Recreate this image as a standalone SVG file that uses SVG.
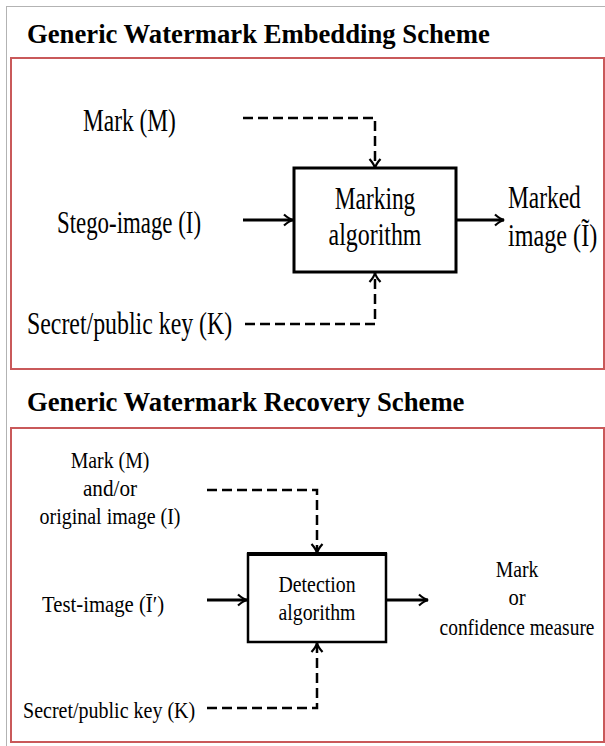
<svg xmlns="http://www.w3.org/2000/svg" width="605" height="746" viewBox="0 0 605 746">
<style>
.title{font-family:"Liberation Serif","DejaVu Serif","Times New Roman",serif;font-weight:bold;font-size:26.7px;fill:#000}
.t1{font-family:"Liberation Serif","DejaVu Serif","Times New Roman",serif;font-size:32px;fill:#000}
.t2{font-family:"Liberation Serif","DejaVu Serif","Times New Roman",serif;font-size:24px;fill:#000}
.m{text-anchor:middle}
.panel{fill:none;stroke:#c9595a;stroke-width:2}
.box{fill:#fff;stroke:#000;stroke-width:3}
.solid{fill:none;stroke:#000;stroke-width:3}
.dash{fill:none;stroke:#000;stroke-width:2.5;stroke-dasharray:10 5}
</style>
<defs>
<marker id="ah" viewBox="0 0 12 14" refX="11" refY="7" markerWidth="12" markerHeight="14" markerUnits="userSpaceOnUse" orient="auto">
<path d="M2 1.5 Q7 6 11 7 Q7 8 2 12.5" fill="none" stroke="#000" stroke-width="2.2" stroke-dasharray="none"/>
</marker>
</defs>
<rect width="605" height="746" fill="#fff"/>
<rect x="6.5" y="6.5" width="610" height="760" fill="none" stroke="#666" stroke-width="1" stroke-dasharray="1 1"/>

<g id="panel1">
<text class="title" x="27" y="43">Generic Watermark Embedding Scheme</text>
<rect class="panel" x="11" y="58" width="593" height="311"/>
</g>
<g id="p1-mark"><text class="t1" transform="translate(83,131) scale(0.72,1)" textLength="129" lengthAdjust="spacingAndGlyphs">Mark (M)</text></g>
<g id="p1-stego"><text class="t1" transform="translate(57,233) scale(0.72,1)" textLength="200" lengthAdjust="spacingAndGlyphs">Stego-image (I)</text></g>
<g id="p1-key"><text class="t1" transform="translate(27,334) scale(0.72,1)" textLength="285" lengthAdjust="spacingAndGlyphs">Secret/public key (K)</text></g>
<g id="p1-algo">
<rect class="box" x="294" y="168" width="162" height="104"/>
<text class="t1 m" transform="translate(375,209) scale(0.72,1)" textLength="112" lengthAdjust="spacingAndGlyphs">Marking</text>
<text class="t1 m" transform="translate(375,245) scale(0.72,1)" textLength="129" lengthAdjust="spacingAndGlyphs">algorithm</text>
</g>
<g id="p1-out">
<text class="t1" transform="translate(508,208) scale(0.72,1)" textLength="101" lengthAdjust="spacingAndGlyphs">Marked</text>
<text class="t1" transform="translate(508,246) scale(0.72,1)" textLength="124" lengthAdjust="spacingAndGlyphs">image (Ĩ)</text>
</g>

<g id="panel2">
<text class="title" x="27" y="411">Generic Watermark Recovery Scheme</text>
<rect class="panel" x="11" y="428" width="593" height="314"/>
</g>
<g id="p2-mark">
<text class="t2 m" transform="translate(110,468) scale(0.82,1)" textLength="96" lengthAdjust="spacingAndGlyphs">Mark (M)</text>
<text class="t2 m" transform="translate(110,496) scale(0.82,1)" textLength="66" lengthAdjust="spacingAndGlyphs">and/or</text>
<text class="t2 m" transform="translate(110,524) scale(0.82,1)" textLength="172" lengthAdjust="spacingAndGlyphs">original image (I)</text>
</g>
<g id="p2-test"><text class="t2" transform="translate(42,612) scale(0.82,1)" textLength="149" lengthAdjust="spacingAndGlyphs">Test-image (Ī′)</text></g>
<g id="p2-key"><text class="t2" transform="translate(23,718) scale(0.82,1)" textLength="210" lengthAdjust="spacingAndGlyphs">Secret/public key (K)</text></g>
<g id="p2-algo">
<rect x="248" y="554" width="138" height="88" fill="#fff" stroke="#000" stroke-width="2.5"/>
<line x1="247" y1="554" x2="387" y2="554" stroke="#000" stroke-width="4"/>
<text class="t2 m" transform="translate(317,592) scale(0.82,1)" textLength="94" lengthAdjust="spacingAndGlyphs">Detection</text>
<text class="t2 m" transform="translate(317,620) scale(0.82,1)" textLength="94" lengthAdjust="spacingAndGlyphs">algorithm</text>
</g>
<g id="p2-out">
<text class="t2 m" transform="translate(517,577) scale(0.82,1)" textLength="52" lengthAdjust="spacingAndGlyphs">Mark</text>
<text class="t2 m" transform="translate(517,605) scale(0.82,1)" textLength="21" lengthAdjust="spacingAndGlyphs">or</text>
<text class="t2 m" transform="translate(517,635) scale(0.82,1)" textLength="189" lengthAdjust="spacingAndGlyphs">confidence measure</text>
</g>

<g id="connectors">
<path class="dash" d="M243 118 H375 V168" marker-end="url(#ah)"/>
<path class="solid" d="M243 220 H293" marker-end="url(#ah)"/>
<path class="solid" d="M456 220 H504" marker-end="url(#ah)"/>
<path class="dash" d="M245 324 H375 V273" marker-end="url(#ah)"/>
<path class="dash" d="M207 490 H317 V553" marker-end="url(#ah)"/>
<path class="solid" d="M207 600 H247" marker-end="url(#ah)"/>
<path class="solid" d="M387 600 H428" marker-end="url(#ah)"/>
<path class="dash" d="M207 708 H317 V643" marker-end="url(#ah)"/>
</g>
</svg>
